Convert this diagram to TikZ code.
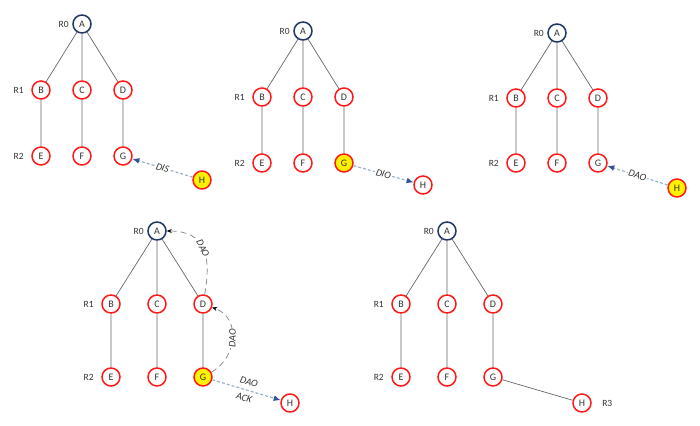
\documentclass[tikz,border=0pt]{standalone}
\usepackage{fontspec}
\setmainfont{Carlito}
\usetikzlibrary{positioning,arrows.meta}
\definecolor{rplred}{HTML}{FF1A1A}
\definecolor{rplnavy}{HTML}{1F3864}
\definecolor{msgblue}{HTML}{9DB3CC}
\definecolor{tipblue}{HTML}{2F5597}
\tikzset{
  mote/.style={circle,draw=rplred,line width=1.5pt,fill=white,minimum size=18pt,inner sep=0pt,text=black!80,font=\fontsize{10}{11}\selectfont},
  root/.style={mote,draw=rplnavy},
  hot/.style={mote,fill=yellow},
  rank/.style={font=\fontsize{9.5}{11}\selectfont,text=black!80},
  link/.style={draw=black!60,line width=0.7pt},
  msg/.style={draw=msgblue,line width=1.2pt,dash pattern=on 3pt off 2pt,-{Latex[color=tipblue,length=7pt,width=6pt]}},
  ctrl/.style={draw=black!50,line width=0.7pt,dash pattern=on 6pt off 4pt,-{Stealth[color=black,length=5pt,width=4pt]}},
  tag/.style={font=\fontsize{10}{11}\selectfont\itshape,text=black!80}
}
\newcommand{\dodag}[4]{%
  \node[root] (#1A) at (0,0) {A};
  \node[mote] (#1B) at (-#2,#3) {B};
  \node[mote] (#1C) at (0,#3) {C};
  \node[mote] (#1D) at (#2,#3) {D};
  \node[mote] (#1E) at (-#2,2*#3) {E};
  \node[mote] (#1F) at (0,2*#3) {F};
  \node[#4] (#1G) at (#2,2*#3) {G};
  \node[rank,left=0pt of #1A] (#1r0) {R0};
  \node[rank,left=4pt of #1B] (#1r1) {R1};
  \node[rank,left=4pt of #1E] (#1r2) {R2};
  \draw[link] (#1A)--(#1B) (#1A)--(#1C) (#1A)--(#1D) (#1B)--(#1E) (#1C)--(#1F) (#1D)--(#1G);
}
\begin{document}
\begin{tikzpicture}[x=1pt,y=-1pt]
\useasboundingbox (0,0) rectangle (700,425);

\begin{scope}[shift={(82,24)}]
\dodag{p1}{41}{66}{mote}
\node[hot] (p1H) at (120,156) {H};
\draw[msg] (p1H)--(p1G) node[midway,sloped,fill=white,inner sep=1pt,tag]{DIS};
\end{scope}

\begin{scope}[shift={(303,31)}]
\dodag{p2}{41}{66}{hot}
\node[mote] (p2H) at (120,154) {H};
\draw[msg] (p2G)--(p2H) node[midway,sloped,fill=white,inner sep=1pt,tag]{DIO};
\end{scope}

\begin{scope}[shift={(557,33)}]
\dodag{p3}{41}{65}{mote}
\node[hot] (p3H) at (120,155) {H};
\draw[msg] (p3H)--(p3G) node[midway,sloped,fill=white,inner sep=1pt,tag]{DAO};
\end{scope}

\begin{scope}[shift={(157,231)}]
\dodag{p4}{46}{73}{hot}
\node[mote] (p4H) at (133,172) {H};
\draw[ctrl] (p4G) to[out=30,in=-20,looseness=1.2] node[midway,sloped,fill=white,inner sep=1pt,tag]{DAO} (p4D);
\draw[ctrl] (p4D) to[out=80,in=0,looseness=1.35] node[midway,sloped,fill=white,inner sep=1pt,tag]{DAO} (p4A);
\draw[msg] (p4G)--(p4H) node[midway,sloped,above=1pt,tag]{DAO} node[midway,sloped,below=1pt,tag]{ACK};
\end{scope}

\begin{scope}[shift={(447,231)}]
\dodag{p5}{46}{73}{mote}
\node[mote] (p5H) at (135,172) {H};
\node[rank,right=7pt of p5H] (p5r3) {R3};
\draw[link] (p5G)--(p5H);
\end{scope}
\end{tikzpicture}
\end{document}
